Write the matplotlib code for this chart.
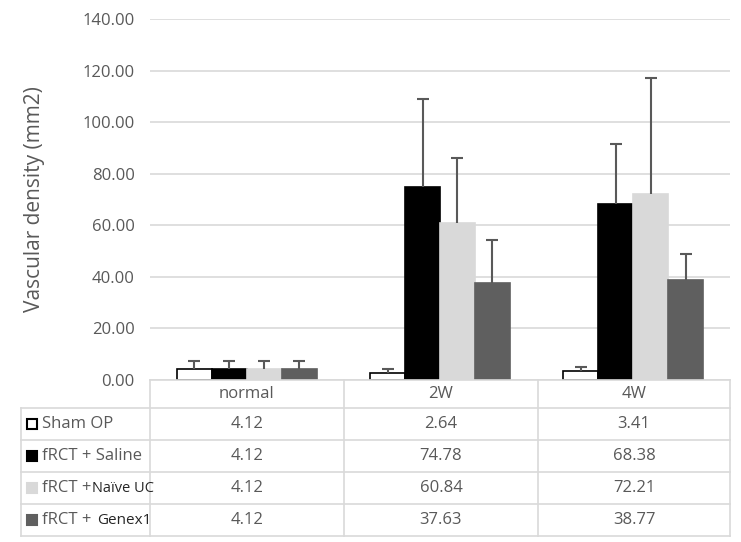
import numpy as np
import matplotlib.pyplot as plt
from matplotlib.lines import Line2D
from matplotlib.patches import Rectangle

# data
categories = ['normal', '2W', '4W']
groups = ['Sham OP', 'fRCT + Saline', 'fRCT + Naïve UC', 'fRCT + Genex1']
sham = [4.12, 2.64, 3.41]
saline = [4.12, 74.78, 68.38]
naive = [4.12, 60.84, 72.21]
genex = [4.12, 37.63, 38.77]
sham_err = [3.4, 1.8, 1.8]
saline_err = [3.4, 34.2, 23.2]
naive_err = [3.4, 25.3, 44.9]
genex_err = [3.4, 16.6, 10.2]
yticks = [0, 20, 40, 60, 80, 100, 120, 140]

values = [sham, saline, naive, genex]
errors = [sham_err, saline_err, naive_err, genex_err]
colors = ['white', 'black', '#d9d9d9', '#5f5f5f']
edges = ['black', 'black', '#d9d9d9', '#5f5f5f']

plt.rcParams['font.family'] = ['Open Sans', 'DejaVu Sans']
txt = '#595959'
grid = '#d9d9d9'

W, H = 741, 542
fig = plt.figure(figsize=(W / 100, H / 100), dpi=100)


def fx(x):
    return x / W


def fy(y):
    return 1 - y / H


ax = fig.add_axes([fx(150), fy(380), fx(730) - fx(150), fy(19) - fy(380)])
x = np.arange(len(categories))
w = 0.181
for i, (vals, errs) in enumerate(zip(values, errors)):
    pos = x + (i - 1.5) * w
    ax.bar(pos, vals, w, color=colors[i], edgecolor=edges[i], linewidth=1.2, zorder=3)
    tops = np.array(vals) + np.array(errs)
    ax.vlines(pos, vals, tops, color='#595959', linewidth=1.5, zorder=4)
    ax.plot(pos, tops, ls='none', marker='_', ms=8, mew=1.5, color='#595959', zorder=4)

ax.set_xlim(-0.5, 2.5)
ax.set_ylim(0, 140)
ax.set_yticks(yticks)
ax.set_yticklabels(['%.2f' % t for t in yticks])
ax.set_xticks([])
ax.tick_params(axis='y', length=0, labelsize=12, labelcolor=txt, pad=11)
ax.grid(axis='y', color=grid, linewidth=1.2, zorder=0)
for s in ax.spines.values():
    s.set_visible(False)
fig.text(fx(35), fy(199), 'Vascular density (mm2)', rotation=90, ha='center', va='center',
         fontsize=15, color=txt)

# data table under the plot
col_x = [150, 344, 538, 730]
row_y = [380, 408, 440, 472, 504, 536]
line_kw = dict(transform=fig.transFigure, color=grid, linewidth=1.2)
fig.add_artist(Line2D([fx(150), fx(730)], [fy(380), fy(380)], **line_kw))
for yy in row_y[1:]:
    fig.add_artist(Line2D([fx(21), fx(730)], [fy(yy), fy(yy)], **line_kw))
for xx in col_x:
    fig.add_artist(Line2D([fx(xx), fx(xx)], [fy(380), fy(536)], **line_kw))
fig.add_artist(Line2D([fx(21), fx(21)], [fy(408), fy(536)], **line_kw))

for j, cat in enumerate(categories):
    cx = (col_x[j] + col_x[j + 1]) / 2
    fig.text(fx(cx), fy(394), cat, ha='center', va='center', fontsize=12, color=txt)
for i, g in enumerate(groups):
    cy = (row_y[i + 1] + row_y[i + 2]) / 2
    fig.add_artist(Rectangle((fx(27), fy(cy + 5)), fx(10), fy(0) - fy(10),
                             transform=fig.transFigure, facecolor=colors[i],
                             edgecolor=edges[i], linewidth=1.5))
    if i < 2:
        fig.text(fx(42), fy(cy), g, ha='left', va='center', fontsize=12, color=txt)
    else:
        # the last two labels use a smaller, darker font after the "+"
        head, tail = g.split('+ ')
        fig.text(fx(42), fy(cy), head + '+', ha='left', va='center', fontsize=12, color=txt)
        fig.text(fx(92 if i == 2 else 97), fy(cy + 1), tail, ha='left', va='center',
                 fontsize=10.5 if i == 2 else 11, color='#262626')
    for j in range(len(categories)):
        cx = (col_x[j] + col_x[j + 1]) / 2
        fig.text(fx(cx), fy(cy), '%.2f' % values[i][j], ha='center', va='center',
                 fontsize=12, color=txt)

fig.savefig('out.png', dpi=100)
